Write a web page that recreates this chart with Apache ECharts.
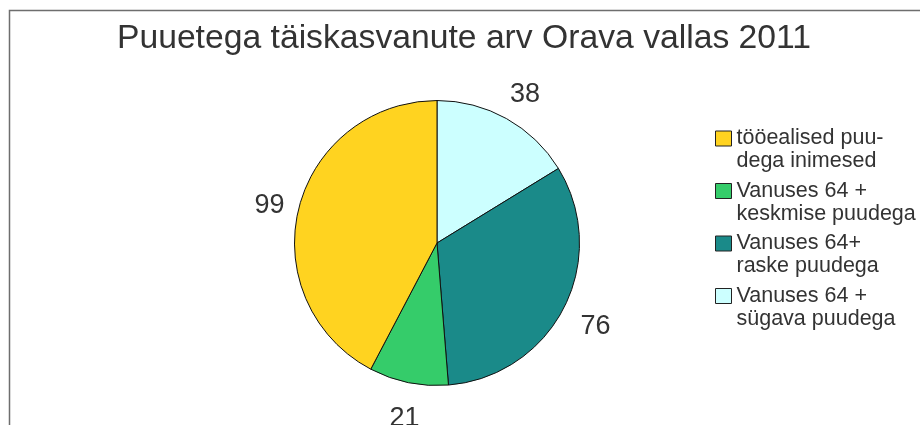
<!DOCTYPE html>
<html>
<head>
<meta charset="utf-8">
<script src="https://cdn.jsdelivr.net/npm/echarts@6/dist/echarts.min.js"></script>
<style>
html,body{margin:0;padding:0;background:#fff;}
#chart{width:920px;height:425px;}
</style>
</head>
<body>
<div id="chart"></div>
<script>
// Drawing order (clockwise from 12 o'clock)
const categories = ['Vanuses 64 + sügava puudega', 'Vanuses 64+ raske puudega', 'Vanuses 64 + keskmise puudega', 'tööealised puudega inimesed'];
const values = [38, 76, 21, 99];
const colors = ['#ccffff', '#1a8a89', '#35cc6a', '#ffd320'];
// Legend order and wrapped labels
const legendOrder = ['tööealised puudega inimesed', 'Vanuses 64 + keskmise puudega', 'Vanuses 64+ raske puudega', 'Vanuses 64 + sügava puudega'];
const legendLabels = ['tööealised puu-\ndega inimesed', 'Vanuses 64 +\nkeskmise puudega', 'Vanuses 64+\nraske puudega', 'Vanuses 64 +\nsügava puudega'];
const titleText = 'Puuetega täiskasvanute arv Orava vallas 2011';

const FONT = 'Liberation Sans, Arial, sans-serif';
const chart = echarts.init(document.getElementById('chart'), null, {renderer: 'canvas'});
const pieData = categories.map((c, i) => ({name: c, value: values[i], itemStyle: {color: colors[i]}}));
chart.setOption({
  animation: false,
  backgroundColor: '#fff',
  title: {
    text: titleText,
    left: 459,
    textAlign: 'center',
    top: 17,
    textStyle: {fontFamily: FONT, fontSize: 33.7, fontWeight: 'normal', color: '#333'}
  },
  legend: {
    orient: 'vertical',
    left: 710,
    top: 99,
    data: legendOrder,
    itemWidth: 16,
    itemHeight: 15,
    itemGap: -16.5,
    selectedMode: false,
    icon: 'rect',
    itemStyle: {borderColor: '#222', borderWidth: 1},
    // leading empty line keeps the swatch level with the first text line
    formatter: name => '\n' + legendLabels[legendOrder.indexOf(name)],
    textStyle: {fontFamily: FONT, fontSize: 21.5, lineHeight: 23, color: '#333'}
  },
  graphic: [{
    type: 'rect', silent: true, z: -1,
    shape: {x: 9.5, y: 10.5, width: 1000, height: 600},
    style: {fill: 'none', stroke: '#6e6e6e', lineWidth: 1.5}
  }],
  series: [{
    type: 'pie',
    center: [437, 243],
    radius: [0, 142.5],
    startAngle: 90,
    clockwise: true,
    silent: true,
    data: pieData,
    label: {show: false},
    labelLine: {show: false},
    itemStyle: {borderColor: '#111', borderWidth: 1}
  }, {
    type: 'pie',
    center: [439.5, 247],
    radius: [171, 173],
    startAngle: 90,
    clockwise: true,
    silent: true,
    data: pieData.map(d => ({name: d.name, value: d.value, itemStyle: {color: 'rgba(0,0,0,0)'}})),
    itemStyle: {borderWidth: 0},
    label: {show: true, position: 'inside', formatter: '{c}', fontFamily: FONT, fontSize: 27, color: '#333'},
    labelLine: {show: false}
  }]
});
</script>
</body>
</html>
